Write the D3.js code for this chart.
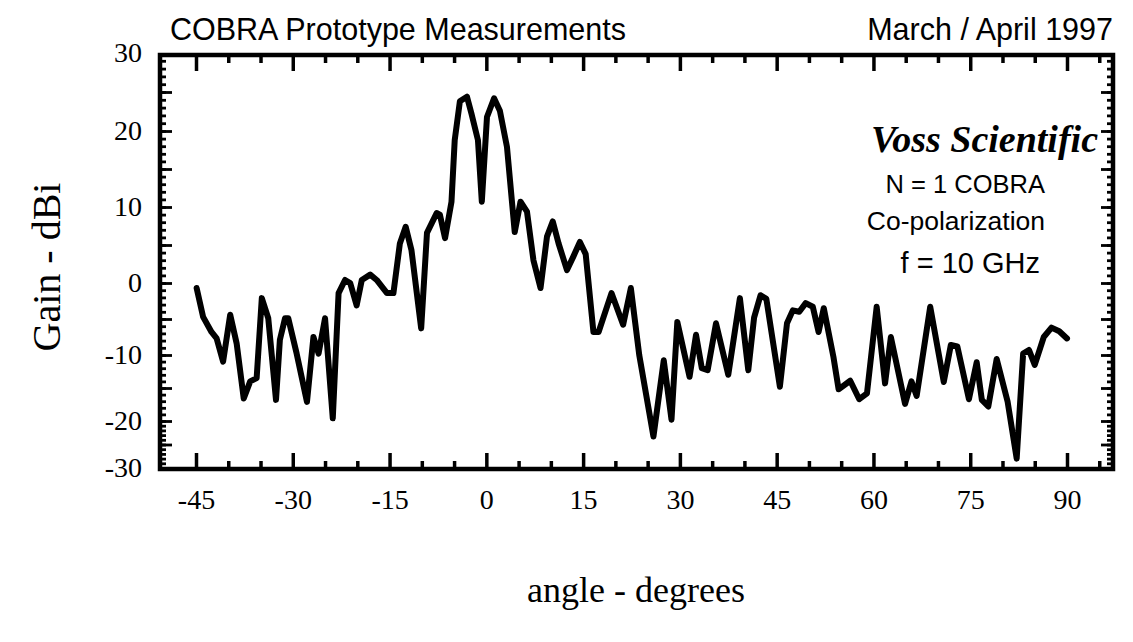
<!DOCTYPE html>
<html>
<head>
<meta charset="utf-8">
<script src="https://cdn.jsdelivr.net/npm/d3@7/dist/d3.min.js"></script>
<style>
  body { margin: 0; background: #fff; }
  svg { display: block; }
</style>
</head>
<body>
<svg id="chart" width="1133" height="642"></svg>
<script>
// Measured antenna gain (dBi) versus angle (degrees)
const angles = [
  -44.9, -43.9, -42.6, -41.8, -40.8, -39.7, -38.7, -37.6, -36.6, -35.6,
  -34.8, -33.8, -32.6, -32.0, -31.2, -30.7, -29.4, -27.8, -26.8, -26.0,
  -25.0, -23.8, -22.9, -21.9, -21.1, -20.1, -19.3, -18.0, -17.0, -15.4,
  -14.4, -13.4, -12.5, -11.6, -10.1, -9.2, -7.7, -7.2, -6.4, -5.4,
  -4.9, -4.1, -3.0, -2.3, -1.3, -0.7, 0.1, 1.2, 2.1, 3.2,
  4.4, 5.3, 6.3, 7.3, 8.4, 9.4, 10.3, 11.2, 12.5, 13.5,
  14.5, 15.4, 16.6, 17.4, 19.4, 21.2, 22.4, 23.7, 25.9, 27.5,
  28.7, 29.6, 31.5, 32.5, 33.4, 34.3, 35.6, 37.5, 39.3, 40.6,
  41.5, 42.5, 43.4, 45.5, 46.6, 47.5, 48.5, 49.5, 50.6, 51.5,
  52.3, 53.8, 54.6, 56.4, 57.8, 59.0, 60.5, 61.8, 62.7, 64.9,
  65.9, 66.7, 68.8, 70.9, 72.0, 73.0, 74.8, 76.0, 76.8, 77.8,
  79.1, 80.8, 82.2, 83.2, 84.1, 85.0, 86.4, 87.6, 88.8, 90.0
];
const gains = [
  -0.7, -4.7, -6.8, -7.7, -11.0, -4.4, -8.4, -16.6, -14.0, -13.5,
  -2.1, -4.9, -16.8, -7.9, -4.9, -4.9, -9.8, -17.1, -7.5, -9.8,
  -4.9, -19.6, -1.4, 0.4, 0.0, -3.1, 0.4, 1.1, 0.4, -1.4,
  -1.4, 5.2, 7.4, 4.3, -6.3, 6.6, 9.2, 9.0, 5.9, 10.7,
  18.8, 23.8, 24.4, 22.2, 18.8, 10.7, 21.8, 24.2, 22.6, 17.9,
  6.7, 10.7, 9.4, 3.0, -0.7, 6.1, 8.1, 5.2, 1.7, 3.5,
  5.4, 3.8, -6.8, -6.8, -1.4, -5.8, -0.7, -10.0, -23.3, -10.8,
  -19.8, -5.4, -13.3, -7.2, -12.0, -12.3, -5.6, -13.0, -2.1, -12.3,
  -4.8, -1.7, -2.2, -14.8, -5.6, -3.8, -4.0, -2.8, -3.3, -6.8,
  -3.5, -10.3, -15.2, -13.9, -16.7, -15.8, -3.3, -14.3, -7.5, -17.4,
  -14.0, -16.2, -3.3, -14.1, -8.6, -8.8, -16.7, -11.1, -16.8, -17.8,
  -10.6, -17.1, -28.0, -9.8, -9.3, -11.5, -7.5, -6.2, -6.7, -7.7
];

const xTickValues = [-45, -30, -15, 0, 15, 30, 45, 60, 75, 90];
const xMinorValues = [-40, -35, -25, -20, -10, -5, 5, 10, 20, 25, 35, 40, 50, 55, 65, 70, 80, 85, 95];
const yTickValues = [-30, -20, -10, 0, 10, 20, 30];
const yMinorValues = d3.range(-30, 30, 1);
const yMidValues = d3.range(-25, 30, 5);

const titleLeft = "COBRA Prototype Measurements";
const titleRight = "March / April 1997";
const company = "Voss Scientific";
const notes = ["N = 1 COBRA", "Co-polarization", "f = 10 GHz"];
const xTitle = "angle - degrees";
const yTitle = "Gain - dBi";

const svg = d3.select("#chart");
const frame = { left: 160, right: 1113, top: 55, bottom: 469 };

const x = d3.scaleLinear().domain([-45, 90]).range([196, 1067]);
// the printed gain axis is not evenly spaced, so the scale follows its labelled stops
const y = d3.scaleLinear()
  .domain(yTickValues)
  .range([468, 421, 355, 283, 207, 131, 53]);

const serif = "'Liberation Serif', 'Times New Roman', serif";
const sans = "'Liberation Sans', Arial, Helvetica, sans-serif";
const plain = d => String(d);

function styleAxis(g, width) {
  g.select(".domain").remove();
  g.selectAll(".tick line").attr("stroke", "#000").attr("stroke-width", width);
}

// bottom axis: labelled major ticks plus minor ticks, pointing inward
svg.append("g")
  .attr("transform", `translate(0,${frame.bottom})`)
  .call(d3.axisBottom(x).tickValues(xTickValues).tickSize(-16).tickPadding(20).tickFormat(plain))
  .call(g => styleAxis(g, 3.5))
  .call(g => g.selectAll("text").attr("font-family", serif).attr("font-size", 28).attr("fill", "#000"));
svg.append("g")
  .attr("transform", `translate(0,${frame.bottom})`)
  .call(d3.axisBottom(x).tickValues(xMinorValues).tickSize(-8).tickFormat(""))
  .call(g => styleAxis(g, 3.5));

// top axis ticks
svg.append("g")
  .attr("transform", `translate(0,${frame.top})`)
  .call(d3.axisTop(x).tickValues(xTickValues).tickSize(-16).tickFormat(""))
  .call(g => styleAxis(g, 3.5));
svg.append("g")
  .attr("transform", `translate(0,${frame.top})`)
  .call(d3.axisTop(x).tickValues(xMinorValues).tickSize(-8).tickFormat(""))
  .call(g => styleAxis(g, 3.5));

// left axis
svg.append("g")
  .attr("transform", `translate(${frame.left},0)`)
  .call(d3.axisLeft(y).tickValues(yMinorValues).tickSize(-6).tickFormat(""))
  .call(g => styleAxis(g, 2.8));
svg.append("g")
  .attr("transform", `translate(${frame.left},0)`)
  .call(d3.axisLeft(y).tickValues(yMidValues).tickSize(-12).tickFormat(""))
  .call(g => styleAxis(g, 2.8));
svg.append("g")
  .attr("transform", `translate(${frame.left},0)`)
  .call(d3.axisLeft(y).tickValues(yTickValues).tickSize(0).tickPadding(18).tickFormat(plain))
  .call(g => g.select(".domain").remove())
  .call(g => g.selectAll("text").attr("font-family", serif).attr("font-size", 28).attr("fill", "#000"));

// right axis
svg.append("g")
  .attr("transform", `translate(${frame.right},0)`)
  .call(d3.axisRight(y).tickValues(yMinorValues).tickSize(-6).tickFormat(""))
  .call(g => styleAxis(g, 2.8));
svg.append("g")
  .attr("transform", `translate(${frame.right},0)`)
  .call(d3.axisRight(y).tickValues(yMidValues).tickSize(-12).tickFormat(""))
  .call(g => styleAxis(g, 2.8));

// plot frame
svg.append("rect")
  .attr("x", frame.left).attr("y", frame.top)
  .attr("width", frame.right - frame.left).attr("height", frame.bottom - frame.top)
  .attr("fill", "none").attr("stroke", "#000").attr("stroke-width", 4.5);

// gain curve
const line = d3.line().x((d, i) => x(angles[i])).y(d => y(d));
svg.append("path")
  .datum(gains)
  .attr("d", line)
  .attr("fill", "none")
  .attr("stroke", "#000")
  .attr("stroke-width", 6)
  .attr("stroke-linejoin", "round")
  .attr("stroke-linecap", "round");

// headings
svg.append("text").attr("x", 170).attr("y", 40)
  .attr("font-family", sans).attr("font-size", 30.5).attr("fill", "#000").text(titleLeft);
svg.append("text").attr("x", 1113).attr("y", 40).attr("text-anchor", "end")
  .attr("font-family", sans).attr("font-size", 30.5).attr("fill", "#000").text(titleRight);

// annotation block
svg.append("text").attr("x", 1098).attr("y", 152).attr("text-anchor", "end")
  .attr("font-family", serif).attr("font-style", "italic").attr("font-weight", "bold")
  .attr("font-size", 38).attr("fill", "#000").text(company);
const noteY = [193, 230, 273];
const noteX = [1045, 1045, 1040];
const noteSize = [25.5, 26.5, 29];
svg.selectAll(".note").data(notes).join("text")
  .attr("class", "note")
  .attr("x", (d, i) => noteX[i]).attr("y", (d, i) => noteY[i])
  .attr("text-anchor", "end")
  .attr("font-family", sans).attr("font-size", (d, i) => noteSize[i]).attr("fill", "#000")
  .text(d => d);

// axis titles
svg.append("text").attr("x", 636).attr("y", 602).attr("text-anchor", "middle")
  .attr("font-family", serif).attr("font-size", 36).attr("fill", "#000").text(xTitle);
svg.append("text")
  .attr("transform", "translate(60,267) rotate(-90)")
  .attr("text-anchor", "middle")
  .attr("font-family", serif).attr("font-size", 40).attr("fill", "#000").text(yTitle);
</script>
</body>
</html>
